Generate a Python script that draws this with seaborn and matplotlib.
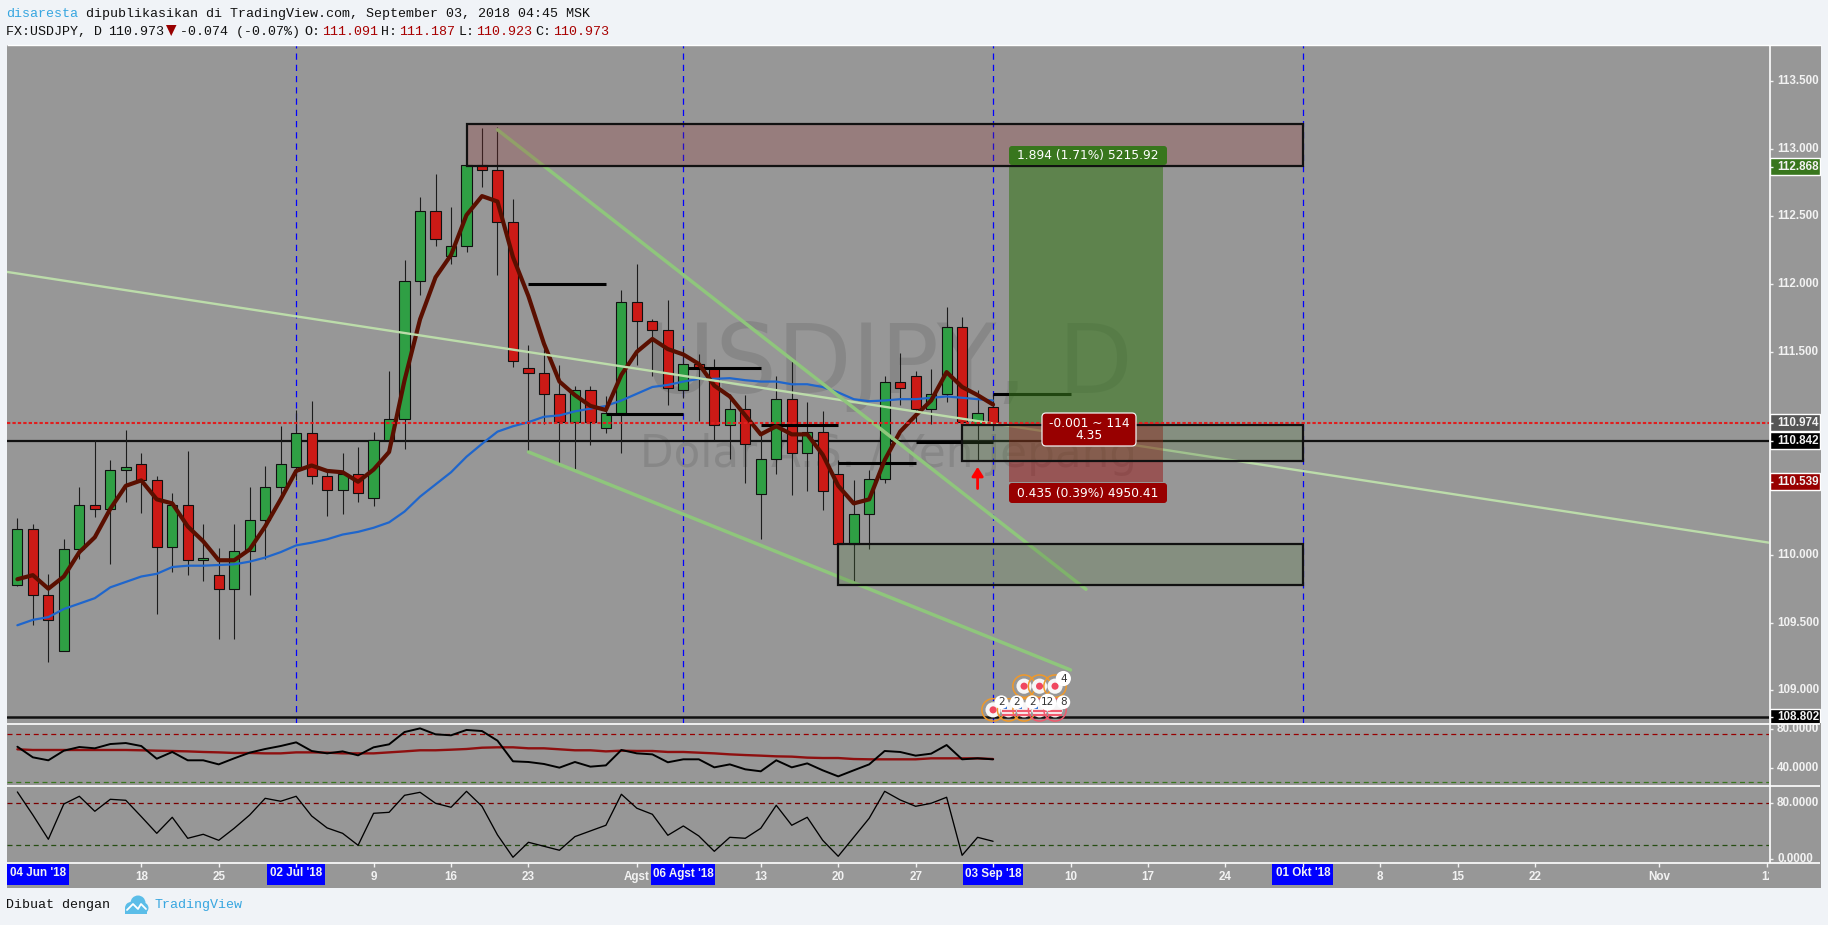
import numpy as np
import matplotlib
matplotlib.use('Agg')
import matplotlib.pyplot as plt
from matplotlib.patches import Rectangle, Circle, Polygon, FancyBboxPatch
import seaborn as sb

W, H = 1828, 925

# trading days counted from 02 Jul '18
bars = np.arange(-18, 46)
opens = [109.78, 110.19, 109.70, 109.29, 110.04, 110.37, 110.34, 110.63, 110.67, 110.55, 110.06, 110.37, 109.96, 109.85, 109.75, 110.03,
         110.26, 110.50, 110.65, 110.90, 110.58, 110.48, 110.60, 110.42, 110.85, 111.00, 112.02, 112.54, 112.21, 112.28, 112.88, 112.84,
         112.46, 111.38, 111.34, 111.19, 110.98, 111.22, 110.94, 111.05, 111.87, 111.73, 111.66, 111.22, 111.41, 111.38, 110.96, 111.08,
         110.45, 110.71, 111.15, 110.75, 110.91, 110.60, 110.08, 110.30, 110.56, 111.28, 111.32, 111.08, 111.19, 111.68, 110.97, 111.091]
highs = [110.27, 110.23, 109.86, 110.12, 110.50, 110.85, 110.70, 110.92, 110.75, 110.58, 110.46, 110.77, 110.23, 110.05, 110.23, 110.50,
         110.66, 110.95, 111.07, 111.14, 110.62, 110.75, 110.80, 110.91, 111.36, 112.18, 112.64, 112.81, 112.57, 112.88, 113.15, 113.16,
         112.63, 111.55, 111.52, 111.40, 111.25, 111.25, 111.17, 111.96, 112.15, 111.74, 111.88, 111.53, 111.48, 111.45, 111.19, 111.18,
         110.89, 111.32, 111.44, 111.13, 111.06, 110.70, 110.55, 110.63, 111.32, 111.49, 111.36, 111.37, 111.83, 111.76, 111.22, 111.187]
lows = [109.77, 109.48, 109.21, 109.29, 109.97, 110.28, 109.93, 110.39, 110.31, 109.56, 109.87, 109.85, 109.81, 109.38, 109.38, 109.70,
        109.97, 110.41, 110.55, 110.52, 110.29, 110.30, 110.39, 110.36, 110.80, 110.78, 111.92, 112.28, 112.15, 112.24, 112.72, 112.07,
        111.39, 110.76, 110.97, 110.68, 110.63, 110.81, 110.90, 110.75, 111.40, 111.32, 111.11, 111.16, 110.99, 110.85, 110.71, 110.53,
        110.12, 110.60, 110.44, 110.47, 110.33, 110.07, 109.79, 110.04, 110.53, 111.11, 110.98, 110.97, 111.13, 110.98, 110.69, 110.923]
closes = [110.19, 109.70, 109.52, 110.04, 110.37, 110.34, 110.63, 110.65, 110.55, 110.06, 110.37, 109.96, 109.98, 109.75, 110.03, 110.26,
          110.50, 110.67, 110.90, 110.58, 110.48, 110.60, 110.46, 110.85, 111.00, 112.02, 112.54, 112.33, 112.28, 112.88, 112.84, 112.46,
          111.43, 111.34, 111.19, 110.98, 111.22, 110.98, 111.05, 111.87, 111.73, 111.66, 111.23, 111.41, 111.38, 110.96, 111.08, 110.82,
          110.71, 111.15, 110.75, 110.91, 110.47, 110.08, 110.30, 110.56, 111.28, 111.23, 111.08, 111.19, 111.68, 110.98, 111.05, 110.973]

ma_fast = [109.82, 109.85, 109.75, 109.84, 110.02, 110.13, 110.34, 110.51, 110.55, 110.41, 110.38, 110.21, 110.10, 109.96, 109.96, 110.04,
           110.21, 110.41, 110.62, 110.66, 110.62, 110.61, 110.54, 110.63, 110.76, 111.29, 111.74, 112.05, 112.215, 112.51, 112.65, 112.61,
           112.20, 111.91, 111.56, 111.28, 111.18, 111.10, 111.07, 111.33, 111.50, 111.595, 111.52, 111.48, 111.41, 111.25, 111.17, 111.03,
           110.89, 110.95, 110.89, 110.89, 110.74, 110.51, 110.38, 110.41, 110.70, 110.91, 111.03, 111.14, 111.35, 111.24, 111.18, 111.11]
ma_slow = [109.48, 109.52, 109.54, 109.60, 109.64, 109.68, 109.76, 109.80, 109.84, 109.86, 109.91, 109.92, 109.92, 109.925, 109.93, 109.95,
           109.98, 110.02, 110.07, 110.09, 110.115, 110.15, 110.17, 110.20, 110.24, 110.32, 110.43, 110.52, 110.61, 110.725, 110.82, 110.91,
           110.95, 110.98, 111.02, 111.03, 111.06, 111.08, 111.10, 111.14, 111.19, 111.24, 111.255, 111.28, 111.30, 111.30, 111.305, 111.29,
           111.28, 111.28, 111.26, 111.26, 111.24, 111.20, 111.15, 111.135, 111.14, 111.15, 111.15, 111.16, 111.17, 111.16, 111.15, 111.14]

rsi = [61.8, 51.1, 48.1, 57.8, 61.5, 60.2, 64.5, 65.5, 62.5, 49.7, 56.5, 48.1, 48.1, 44.0, 50.1, 55.8,
       59.5, 62.5, 66.2, 57.5, 55.1, 57.1, 53.1, 61.2, 64.2, 76.6, 80.3, 74.3, 73.3, 78.7, 77.6, 67.9,
       47.1, 46.4, 44.4, 40.7, 46.4, 41.7, 43.0, 58.5, 55.1, 54.1, 46.1, 49.1, 49.1, 41.0, 44.0, 39.0,
       37.0, 48.1, 41.0, 45.0, 38.0, 31.9, 38.0, 44.0, 57.5, 56.5, 52.8, 54.8, 63.5, 49.1, 50.1, 49.1]
rsi_ma = [59.2, 58.5, 58.5, 58.5, 58.5, 58.5, 58.5, 58.5, 58.2, 57.8, 57.5, 57.1, 56.5, 56.1, 55.5, 55.5,
          55.1, 55.1, 56.1, 56.1, 55.8, 55.1, 55.1, 55.1, 56.1, 57.1, 58.2, 58.2, 58.8, 59.5, 60.8, 61.2,
          61.2, 60.2, 60.2, 59.2, 58.2, 58.2, 57.1, 57.8, 57.5, 57.5, 56.5, 56.5, 55.8, 55.1, 54.1, 53.4,
          52.8, 52.1, 51.8, 50.8, 50.4, 50.4, 49.4, 49.1, 49.1, 49.1, 49.1, 50.1, 50.1, 50.1, 50.1, 49.4]
stoch = [96.2, 63.3, 28.6, 79.0, 90.0, 68.6, 85.7, 84.3, 61.0, 37.1, 60.0, 30.0, 35.7, 27.1, 44.3, 63.3,
         87.1, 82.9, 90.0, 61.9, 44.8, 37.1, 20.0, 65.7, 67.1, 91.4, 95.7, 80.0, 74.3, 97.1, 75.7, 34.8,
         2.9, 24.3, 18.6, 12.9, 32.4, 40.5, 48.6, 92.9, 72.9, 64.3, 34.3, 47.6, 33.3, 11.4, 31.4, 30.0,
         44.3, 77.1, 48.6, 60.0, 27.1, 4.3, 31.4, 58.6, 97.1, 84.8, 75.7, 80.0, 88.6, 5.7, 31.4, 25.7]

price_ticks = [113.5, 113.0, 112.5, 112.0, 111.5, 110.5, 110.0, 109.5, 109.0]
week_ticks = [-10, -5, 5, 10, 15, 22, 30, 35, 40, 50, 55, 60, 70, 75, 80, 88, 95]
week_labels = ['18', '25', '9', '16', '23', 'Agst', '13', '20', '27', '10', '17', '24', '8', '15', '22', 'Nov', '12']
marker_days = [0, 25, 45, 65]
marker_labels = ["02 Jul '18", "06 Agst '18", "03 Sep '18", "01 Okt '18"]
marker_widths = [58, 64, 60, 61]

last_price = 110.974
level_mid = 110.842
level_low = 108.802
target = 112.868
stop = 110.539

# thick resistance / support stubs: start, end, price
stubs = [(15, 20, 112.00), (20, 25, 111.04), (25.3, 30, 111.38), (30, 35, 110.957),
         (35, 40, 110.676), (40, 45, 110.834), (45, 50, 111.19)]
# boxes: start, end, bottom, top
box_red = (11, 65, 112.874, 113.18)
box_green = [(43, 65, 110.69, 110.96), (35, 65, 109.78, 110.08)]
trend_thin = ([-18.67, 95.1], [112.09, 110.09])
trend_a = ([13, 51], [113.14, 109.746])
trend_b = ([15, 50], [110.76, 109.15])

GREY = '#979797'
GRN = '#2f9f44'
RED = '#cc1a16'
FIGBG = '#f0f3f7'
WHITE = '#f2f2f2'
AXIS_FONT = ['Liberation Sans', 'DejaVu Sans']
MONO = ['Liberation Mono', 'DejaVu Sans Mono']

sb.set_theme(style='white')
plt.rcParams['font.family'] = ['Liberation Sans', 'DejaVu Sans']

fig = plt.figure(figsize=(W / 100, H / 100), dpi=100, facecolor=FIGBG)


def ax_px(l, t, r, b, zorder=2):
    a = fig.add_axes([l / W, 1 - b / H, (r - l) / W, (b - t) / H], zorder=zorder)
    a.set_facecolor('none')
    a.set_axis_off()
    return a


back = ax_px(0, 0, W, H, zorder=0)
back.set_xlim(0, W)
back.set_ylim(H, 0)
back.add_patch(Rectangle((7, 45), 1814, 843, fc=GREY, ec='none'))

main = ax_px(7, 45, 1769, 723)
ax_rsi = ax_px(7, 724, 1769, 786)
ax_sto = ax_px(7, 786, 1769, 863)
ax_time = ax_px(7, 863, 1769, 888)
r_main = ax_px(1770, 45, 1821, 723)
r_rsi = ax_px(1770, 724, 1821, 786)
r_sto = ax_px(1770, 786, 1821, 863)
over = ax_px(0, 0, W, H, zorder=5)
over.set_xlim(0, W)
over.set_ylim(H, 0)

# watermark
wm = '#000000'
main.text(0.5, 0.4867, 'USDJPY, D', transform=main.transAxes, ha='center', va='baseline', fontsize=70,
          family='DejaVu Sans', color=wm, alpha=0.1, zorder=1)
main.text(0.5, 0.3776, 'Dolar A.S. / Yen Jepang', transform=main.transAxes, ha='center', va='baseline', fontsize=31.4,
          family='DejaVu Sans', color=wm, alpha=0.1, zorder=1)

# vertical date markers
for d in marker_days:
    main.axvline(d, color='#0000ff', lw=0.9, dashes=(5, 4), zorder=2)

# levels
main.axhline(level_mid, color='#111111', lw=1.6, zorder=2)
main.axhline(level_low, color='#111111', lw=1.8, zorder=2)

# candles
o, c = np.array(opens), np.array(closes)
up = c >= o
colors = [GRN if u else RED for u in up]
main.vlines(bars, lows, highs, color='#1c1c1c', lw=0.8, zorder=3)
main.bar(bars, np.abs(c - o), bottom=np.minimum(o, c), width=0.66, color=colors, edgecolor='#101010', lw=0.8, zorder=4)

# moving averages
sb.lineplot(x=bars, y=ma_slow, ax=main, color='#1f66cc', linewidth=1.6, errorbar=None, zorder=5)
sb.lineplot(x=bars, y=ma_fast, ax=main, color='#5a0f00', linewidth=3.0, errorbar=None, zorder=6)

# trend lines
sb.lineplot(x=trend_thin[0], y=trend_thin[1], ax=main, color='#bcdcaa', linewidth=1.7, errorbar=None, zorder=7)
for tl in (trend_a, trend_b):
    sb.lineplot(x=tl[0], y=tl[1], ax=main, color='#8fc67c', linewidth=2.5, errorbar=None, zorder=7)

for s0, s1, p in stubs:
    main.hlines(p, s0, s1, color='#000000', lw=2.2, zorder=5)

# position tool
main.add_patch(Rectangle((46, last_price), 10, target - last_price, fc='#38761d', alpha=0.6, ec='none', zorder=8))
main.add_patch(Rectangle((46, stop), 10, last_price - stop, fc='#980000', alpha=0.43, ec='none', zorder=8))

# boxes
main.add_patch(Rectangle((box_red[0], box_red[2]), box_red[1] - box_red[0], box_red[3] - box_red[2],
                         fc='#973030', alpha=0.25, ec='none', zorder=8))
main.add_patch(Rectangle((box_red[0], box_red[2]), box_red[1] - box_red[0], box_red[3] - box_red[2],
                         fc='none', ec='#111111', lw=1.6, zorder=8))
for b in box_green:
    main.add_patch(Rectangle((b[0], b[2]), b[1] - b[0], b[3] - b[2], fc='#50783c', alpha=0.25, ec='none', zorder=8))
    main.add_patch(Rectangle((b[0], b[2]), b[1] - b[0], b[3] - b[2], fc='none', ec='#111111', lw=1.6, zorder=8))

main.axhline(last_price, color='#e01e1e', lw=1.5, dashes=(1.6, 1), zorder=8)

# arrow
main.annotate('', xy=(44, 110.65), xytext=(44, 110.49), zorder=9,
              arrowprops=dict(arrowstyle='-|>,head_width=0.28,head_length=0.45', color='#ff0000', lw=2, shrinkA=0, shrinkB=0))


# labels of the position tool
def pill(x0, y0, x1, y1, col, s, edge='none', r=3):
    over.add_patch(FancyBboxPatch((x0 + r, y0 + r), x1 - x0 - 2 * r, y1 - y0 - 2 * r, boxstyle=f'round,pad={r},rounding_size={r}',
                                  fc=col, ec=edge, lw=0.9, zorder=3))
    over.text((x0 + x1) / 2, (y0 + y1) / 2, s, ha='center', va='center', color='white', fontsize=8.8, family='DejaVu Sans',
              linespacing=0.95, zorder=4)


pill(1009, 146, 1167, 165, '#38761d', '1.894 (1.71%) 5215.92')
pill(1009, 483, 1167, 503, '#980000', '0.435 (0.39%) 4950.41')
pill(1042, 413, 1136, 446, '#980000', '-0.001 ~ 114\n4.35', edge='#f0f0f0', r=4)

# event icons
ev_low = 108.855
ev_high = 109.03
ev_x_low = [45, 46, 47, 48, 49]
ev_x_high = [47, 48, 49]
ev_ring_low = ['#f0992a', '#f0992a', '#f0992a', '#ef5a6e', '#ef5a6e']
ev_count_low = ['2', '2', '2', '12', '8']
for x, col in zip(ev_x_high, ['#f0992a'] * 3):
    sb.scatterplot(x=[x], y=[ev_high], ax=main, s=260, color='none', edgecolor=col, linewidth=1.1, zorder=11, legend=False)
    sb.scatterplot(x=[x], y=[ev_high], ax=main, s=120, color='#f6f6f6', edgecolor='none', zorder=11, legend=False)
    sb.scatterplot(x=[x], y=[ev_high], ax=main, s=26, color='#f0475f', edgecolor='none', zorder=12, legend=False)
for i, (x, col) in enumerate(zip(ev_x_low, ev_ring_low)):
    sb.scatterplot(x=[x], y=[ev_low], ax=main, s=260, color='none', edgecolor=col, linewidth=1.1, zorder=11, legend=False)
    sb.scatterplot(x=[x], y=[ev_low], ax=main, s=120, color='#f6f6f6', edgecolor='none', zorder=11, legend=False)
    if i == 0:
        sb.scatterplot(x=[x], y=[ev_low], ax=main, s=26, color='#f0475f', edgecolor='none', zorder=12, legend=False)
    else:
        main.hlines([ev_low - 0.012, ev_low - 0.04], x - 0.45, x + 0.45, color='#ef5a6e', lw=1.6, zorder=12)
        sb.scatterplot(x=[x - 0.25], y=[ev_low + 0.02], ax=main, s=10, marker='s', color='#3a78d8', edgecolor='none', zorder=12, legend=False)
    main.annotate(ev_count_low[i], xy=(x, ev_low), xytext=(6, 5.5), textcoords='offset points', ha='center', va='center',
                  fontsize=7.5, color='#333333', zorder=13, family='DejaVu Sans',
                  bbox=dict(boxstyle='circle,pad=0.18', fc='white', ec='none'))
main.annotate('4', xy=(49, ev_high), xytext=(6, 5.5), textcoords='offset points', ha='center', va='center', fontsize=7.5,
              color='#333333', zorder=13, family='DejaVu Sans', bbox=dict(boxstyle='circle,pad=0.25', fc='white', ec='none'))

# RSI pane
ax_rsi.axhline(74.3, color='#980000', lw=0.9, dashes=(4, 3))
ax_rsi.axhline(25.9, color='#38761d', lw=0.9, dashes=(4, 3))
sb.lineplot(x=bars, y=rsi_ma, ax=ax_rsi, color='#8e0f0f', linewidth=1.7, errorbar=None)
sb.lineplot(x=bars, y=rsi, ax=ax_rsi, color='#000000', linewidth=1.4, errorbar=None)

# stochastic pane
ax_sto.axhline(80, color='#7a0000', lw=0.9, dashes=(4, 3))
ax_sto.axhline(20, color='#274e13', lw=0.9, dashes=(4, 3))
sb.lineplot(x=bars, y=stoch, ax=ax_sto, color='#000000', linewidth=0.95, errorbar=None)

xlim = (-18.67, 95.1)
for a in (main, ax_rsi, ax_sto, ax_time):
    a.set_xlim(*xlim)
    a.set_xlabel('')
    a.set_ylabel('')
main.set_ylim(108.758, 113.766)
ax_rsi.set_ylim(22.2, 84.7)
ax_sto.set_ylim(-5.3, 104.7)
ax_time.set_ylim(25, 0)

# time axis
t_font = dict(color=WHITE, fontsize=8.4, fontweight='bold', ha='center', va='center', clip_on=True, family=AXIS_FONT)
ax_time.vlines(week_ticks, 0, 4, color=WHITE, lw=1, zorder=5)
for x, s in zip(week_ticks, week_labels):
    ax_time.text(x, 14, s, **t_font)
px_per_day = 1762 / (xlim[1] - xlim[0])
for d, s, wd in zip(marker_days, marker_labels, marker_widths):
    mid = 7 + (d - xlim[0]) * px_per_day
    over.add_patch(Rectangle((mid - wd / 2, 863.5), wd, 21.5, fc='#0000ff', ec='none', zorder=3))
    over.vlines(mid, 863, 867, color=WHITE, lw=1, zorder=4)
    over.text(mid, 873.5, s, zorder=4, **t_font)
over.add_patch(Rectangle((7, 863.5), 61.5, 21.5, fc='#0000ff', ec='none', zorder=3))
over.text(38, 873.5, "04 Jun '18", zorder=4, **t_font)

# price scales
s_font = dict(color=WHITE, fontsize=8.4, fontweight='bold', ha='left', va='center', clip_on=True, family=AXIS_FONT)
for a, lim in ((r_main, main.get_ylim()), (r_rsi, ax_rsi.get_ylim()), (r_sto, ax_sto.get_ylim())):
    a.set_xlim(0, 51)
    a.set_ylim(*lim)
for v in price_ticks:
    r_main.hlines(v, 0, 3, color=WHITE, lw=1, zorder=2)
    r_main.text(7, v, f'{v:.3f}', zorder=2, **s_font)
tag_h = 17 / 135.4
for v, col in ((target, '#38761d'), (last_price, '#555555'), (level_mid, '#000000'), (stop, '#980000'), (level_low, '#000000')):
    r_main.barh(v, 50, left=0, height=tag_h, color=col, zorder=3)
    r_main.hlines(v, 0, 3, color=WHITE, lw=1, zorder=4)
    r_main.text(7, v, f'{v:.3f}', zorder=5, **s_font)
for a, vals in ((r_rsi, [80, 40]), (r_sto, [80, 0])):
    for v in vals:
        a.hlines(v, 0, 3, color=WHITE, lw=1)
        a.text(7, v, f'{v:.4f}', **s_font)

# white frame lines
over.hlines(44.5, 7, 1821, color='white', lw=1)
over.hlines([724, 786, 863], 7, 1820, color='white', lw=1.2)
over.vlines(1770, 45, 863, color='white', lw=1.2)

# header
mono = dict(family=MONO, fontsize=9.6, va='center', ha='left')
over.text(6.5, 14, 'disaresta', color='#37a6e0', **mono)
over.text(86, 14, 'dipublikasikan di TradingView.com, September 03, 2018 04:45 MSK', color='#111111', **mono)
dark = '#111111'
bad = '#a80000'
for px, s, col in ((6.5, 'FX:USDJPY, D', dark), (108, '110.973', dark), (180.5, '-0.074 (-0.07%)', dark), (304.5, 'O:', dark),
                   (322, '111.091', bad), (381.5, 'H:', dark), (399, '111.187', bad), (458.5, 'L:', dark), (476, '110.923', bad),
                   (535.5, 'C:', dark), (553, '110.973', bad)):
    over.text(px, 32, s, color=col, **mono)
over.add_patch(Polygon([(166, 25), (176.5, 25), (171.2, 36)], closed=True, fc='#980000', ec='none'))

# footer
over.text(6.5, 905, 'Dibuat dengan', color='#111111', **mono)
over.text(155, 905, 'TradingView', color='#37a6e0', **mono)
for cx, cy, r in ((131, 908, 6), (138, 903, 7.5), (143, 908, 5.5)):
    over.add_patch(Circle((cx, cy), r, fc='#5bbde8', ec='none'))
over.add_patch(Rectangle((125, 908), 22, 5.5, fc='#5bbde8', ec='none'))
over.plot([127, 133, 138, 141, 146], [910, 904, 909, 904, 909], color='white', lw=1.3)

fig.savefig('out.png', dpi=100, facecolor=FIGBG)
